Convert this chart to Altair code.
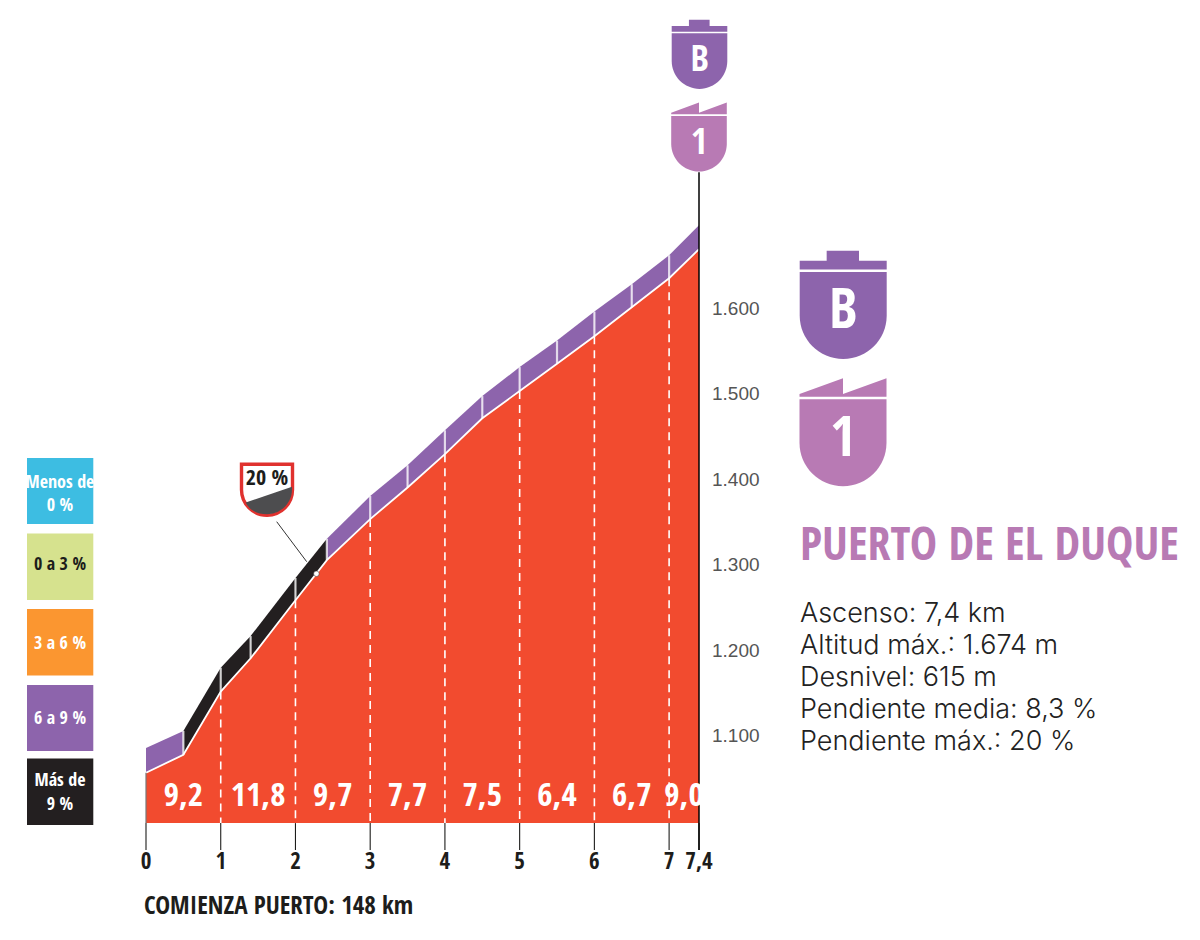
import altair as alt
import pandas as pd

# ---- values ----
km = [0, 0.5, 1, 1.4, 2, 2.42, 3, 3.5, 4, 4.5, 5, 5.5, 6, 6.5, 7, 7.4]
alt_road = [1057, 1078, 1152, 1191, 1259, 1306, 1354, 1391, 1430, 1472, 1504, 1536, 1568, 1602, 1636, 1670]
alt_band = [1086, 1106, 1180, 1217, 1285, 1331, 1381, 1417, 1458, 1498, 1532, 1563, 1597, 1629, 1663, 1698]
black_from, black_to = 0.5, 2.42
km_ticks = [0, 1, 2, 3, 4, 5, 6, 7, 7.4]
km_tick_labels = ["0", "1", "2", "3", "4", "5", "6", "7", "7,4"]
alt_ticks = [1100, 1200, 1300, 1400, 1500, 1600]
alt_tick_labels = ["1.100", "1.200", "1.300", "1.400", "1.500", "1.600"]
grade_km = [0.5, 1.5, 2.5, 3.5, 4.5, 5.5, 6.5, 7.2]
grade_labels = ["9,2", "11,8", "9,7", "7,7", "7,5", "6,4", "6,7", "9,0"]
dash_km = [1, 2, 3, 4, 5, 6, 7]
dash_alt = [1152, 1259, 1354, 1430, 1504, 1568, 1636]
sep_km = [0.5, 1, 1.4, 2, 2.42, 3, 3.5, 4, 4.5, 5, 5.5, 6, 6.5, 7]
sep_top = [1106, 1180, 1217, 1285, 1331, 1381, 1417, 1458, 1498, 1532, 1563, 1597, 1629, 1663]
sep_bot = [1078, 1152, 1191, 1259, 1306, 1354, 1391, 1430, 1472, 1504, 1536, 1568, 1602, 1636]
base_alt = 998
tick_bottom_alt = 966.5
stem_top_alt = 1760
peak_km, peak_alt = 2.28, 1290
stats = ["Ascenso: 7,4 km", "Altitud máx.: 1.674 m", "Desnivel: 615 m",
         "Pendiente media: 8,3 %", "Pendiente máx.: 20 %"]
legend_colors = ["#3DBDE2", "#D6E28E", "#FB9630", "#8D64AC", "#231F20"]

# ---- layout ----
W, H = 1184, 924
PX_KM = 74.73
PX_M = 0.854
x_dom = [(8 - 146) / PX_KM, (8 + W - 146) / PX_KM]
y_dom = [1100 + (736 - (8 + H)) / PX_M, 1100 + (736 - 8) / PX_M]
X = alt.Scale(domain=x_dom, nice=False, zero=False)
Y = alt.Scale(domain=y_dom, nice=False, zero=False)
COND = "Open Sans Condensed"
PURPLE = "#8D64AC"
MAUVE = "#B87AB4"
RED = "#F24B2F"
one = pd.DataFrame({"a": [0]})


def xe(f):
    return alt.X(f, type="quantitative", scale=X, axis=None)


def ye(f):
    return alt.Y(f, type="quantitative", scale=Y, axis=None, stack=None)


def label(text, px, py, size, color="#1d1d1b", font=COND, weight="bold", align="center", baseline="middle"):
    return alt.Chart(one).mark_text(text=text, font=font, fontSize=size, fontWeight=weight, color=color,
                                    align=align, baseline=baseline).encode(
        x=alt.value(px - 8), y=alt.value(py - 8))


def shape(path, px, py, width, color):
    return alt.Chart(one).mark_point(shape=path, filled=True, fill=color, opacity=1, strokeWidth=0,
                                     size=width * width).encode(x=alt.value(px - 8), y=alt.value(py - 8))


BODY = "M-1,0 L1,0 L1,1 C1,1.552 0.552,2 0,2 C-0.552,2 -1,1.552 -1,1 Z"
CAP_B = "M-1,-0.057 L-1,-0.26 L-0.38,-0.26 L-0.38,-0.49 L0.363,-0.49 L0.363,-0.26 L1,-0.26 L1,-0.057 Z"
CAP_1 = "M-1,-0.06 L-1,-0.12 L0,-0.483 L0,-0.12 L1,-0.483 L1,-0.06 Z"
GRAY = "M1,0.906 L1,1 C1,1.552 0.552,2 0,2 C-0.45,2 -0.72,1.8 -0.85,1.53 Z"


def badge(px, py, width, cap, color, text, tsize, ty):
    return [shape(BODY, px, py, width, color), shape(cap, px, py, width, color),
            label(text, px, py + ty, tsize, "#ffffff")]


prof = pd.DataFrame({"km": km, "road": alt_road, "band": alt_band, "base": [base_alt] * len(km)})
rows = []
for i in range(len(km) - 1):
    col = "#231F20" if black_from <= km[i] < black_to else PURPLE
    for j in (i, i + 1):
        rows.append({"km": km[j], "road": alt_road[j], "band": alt_band[j], "seg": i, "col": col})
segs = pd.DataFrame(rows)

layers = []
layers.append(alt.Chart(prof).mark_area(color=RED).encode(x=xe("km"), y=ye("road"), y2="base"))
layers.append(alt.Chart(segs).mark_area().encode(x=xe("km"), y=ye("band"), y2="road",
                                                 color=alt.Color("col:N", scale=None),
                                                 detail="seg:N"))
layers.append(alt.Chart(prof).mark_line(color="#ffffff", strokeWidth=1.8).encode(x=xe("km"), y=ye("road")))
layers.append(alt.Chart(pd.DataFrame({"km": sep_km, "t": sep_top, "b": sep_bot})).mark_rule(
    color="#ffffff", strokeWidth=2.2, opacity=0.75).encode(x=xe("km"), y=ye("t"), y2="b"))
layers.append(alt.Chart(pd.DataFrame({"km": dash_km, "t": dash_alt, "b": [base_alt] * len(dash_km)})).mark_rule(
    color="#ffffff", strokeWidth=1.6, strokeDash=[8, 6]).encode(x=xe("km"), y=ye("t"), y2="b"))
layers.append(alt.Chart(pd.DataFrame({"km": km_ticks, "t": [base_alt] * 9, "b": [tick_bottom_alt] * 9})).mark_rule(
    color="#1d1d1b", strokeWidth=1.1).encode(x=xe("km"), y=ye("t"), y2="b"))
layers.append(alt.Chart(pd.DataFrame({"km": [7.4], "t": [stem_top_alt], "b": [tick_bottom_alt]})).mark_rule(
    color="#000000", strokeWidth=1.5).encode(x=xe("km"), y=ye("t"), y2="b"))
layers.append(alt.Chart(pd.DataFrame({"km": [0], "t": [alt_road[0]], "b": [base_alt]})).mark_rule(
    color="#777777", strokeWidth=1.2).encode(x=xe("km"), y=ye("t"), y2="b"))

# tick labels
layers.append(alt.Chart(pd.DataFrame({"km": km_ticks, "l": km_tick_labels})).mark_text(
    font=COND, fontSize=23, fontWeight="bold", color="#1d1d1b").encode(
    x=xe("km"), y=alt.value(862 - 8), text="l:N"))
layers.append(alt.Chart(pd.DataFrame({"a": alt_ticks, "l": alt_tick_labels})).mark_text(
    font="Liberation Sans", fontSize=19, color="#555555", align="left").encode(
    x=alt.value(712 - 8), y=ye("a"), text="l:N"))
layers.append(alt.Chart(pd.DataFrame({"km": grade_km, "l": grade_labels})).mark_text(
    font=COND, fontSize=33, color="#ffffff").encode(x=xe("km"), y=alt.value(796 - 8), text="l:N"))
layers.append(label("COMIENZA PUERTO: 148 km", 144, 906, 25, align="left"))

# 20 % flag
layers.append(alt.Chart(one).mark_rule(color="#333333", strokeWidth=1).encode(
    x=alt.value(276.7 - 8), x2=alt.value(306.7 - 8), y=alt.value(521.7 - 8), y2=alt.value(561.7 - 8)))
layers.append(alt.Chart(pd.DataFrame({"km": [peak_km], "a": [peak_alt]})).mark_point(
    filled=True, color="#ffffff", opacity=1, size=30, shape="circle", stroke="#333333", strokeWidth=0.5).encode(
    x=xe("km"), y=ye("a")))
layers.append(alt.Chart(one).mark_point(shape=BODY, filled=False, fill="#ffffff", stroke="#E0312E", strokeWidth=3.4,
                                        opacity=1, size=51 * 51).encode(x=alt.value(267 - 8), y=alt.value(464.2 - 8)))
layers.append(shape(GRAY, 267, 464.2, 50, "#4D4D4F"))
layers.append(label("20 %", 267, 478, 22))

# small and large category badges
layers += badge(699.5, 33.3, 55.6, CAP_B, PURPLE, "B", 36, 27)
layers += badge(699, 116, 55.6, CAP_1, MAUVE, "1", 36, 27)
layers += badge(843.2, 272, 87, CAP_B, PURPLE, "B", 56, 39)
layers += badge(843, 399.3, 87, CAP_1, MAUVE, "1", 56, 40)

# colour key
key_boxes = [(458, 524), (533.5, 600), (609, 675.5), (685, 751), (758.5, 825)]
key_text = [[("Menos de", 483), ("0 %", 506)], [("0 a 3 %", 565)], [("3 a 6 %", 644)], [("6 a 9 %", 719)],
            [("Más de", 781), ("9 %", 805)]]
key_ink = ["#ffffff", "#1d1d1b", "#ffffff", "#ffffff", "#ffffff"]
for (t, b), c, lines, ink in zip(key_boxes, legend_colors, key_text, key_ink):
    layers.append(alt.Chart(one).mark_rect(color=c).encode(
        x=alt.value(27 - 8), x2=alt.value(93.3 - 8), y=alt.value(t - 8), y2=alt.value(b - 8)))
    for s, py in lines:
        layers.append(label(s, 60, py, 18, ink))

# title and stats
layers.append(label("PUERTO DE EL DUQUE", 800, 546, 46, MAUVE, align="left"))
for s, py in zip(stats, [614, 646, 678, 710, 742]):
    layers.append(label(s, 800, py, 27, "#222222", font="Inter", weight=300, align="left"))

chart = alt.layer(*layers).properties(
    width=W, height=H, padding=0, autosize=alt.AutoSizeParams(type="none"), background="#ffffff"
).configure_view(stroke=None)

chart.save("out.html", embed_options={"renderer": "svg", "actions": False})
